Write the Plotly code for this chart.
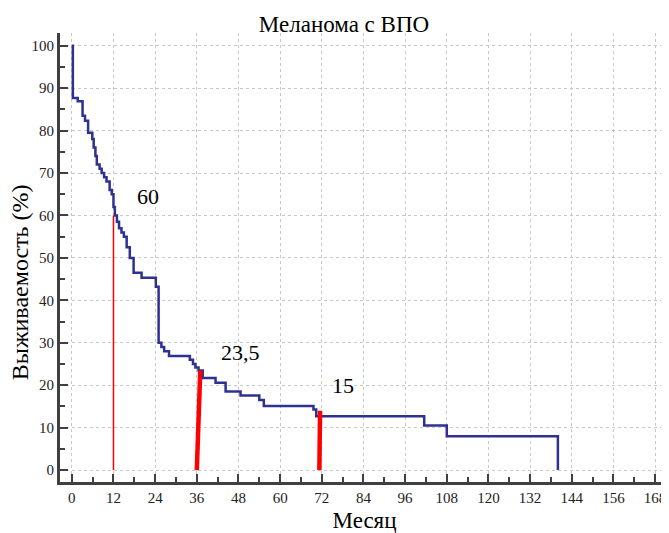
import plotly.graph_objects as go

# Kaplan-Meier curve (months, survival %)
months = [0, 0.3, 1.7, 3.1, 3.8, 4.7, 5.9, 6.3, 6.8, 7.2, 8.0, 8.6, 9.3, 10.0, 10.9, 11.5,
          12.0, 12.4, 13.0, 13.6, 14.3, 15.0, 15.8, 16.7, 17.8, 20.1, 24.2, 25.0, 25.8,
          26.6, 28.0, 34.0, 34.9, 35.6, 36.5, 37.7, 41.4, 44.3, 48.6, 54.0, 55.3, 69.6,
          70.4, 101.5, 108.0, 140.0]
survival = [100, 87.7, 86.9, 83.5, 82.3, 79.5, 78, 76, 74, 72, 71, 70, 69, 68, 66, 65,
            62, 60, 58.5, 57, 56, 55, 52.5, 50, 46.5, 45.3, 43.2, 30, 29,
            28, 26.9, 26, 25, 24.2, 23.5, 21.7, 20.6, 18.5, 17.6, 16.5, 15.1, 14.3,
            12.7, 10.5, 8.0, 0]

# red marker lines (x bottom, x top, height, width)
mark_x0 = [12, 36, 71.3]
mark_x1 = [12, 37, 71.5]
mark_val = [60, 23.5, 14]
mark_w = [1.5, 4.5, 4.5]

label_text = ["60", "23,5", "15"]
label_x = [21.9, 48.6, 78]
label_y = [64.4, 27.8, 20]

x_ticks = list(range(0, 169, 12))
y_ticks = list(range(0, 101, 10))

FONT = "Times New Roman, Liberation Serif, serif"

fig = go.Figure()
fig.add_trace(go.Scatter(x=months, y=survival, mode="lines", line_shape="hv",
                         line=dict(color="#2e3192", width=2.5), showlegend=False,
                         hoverinfo="skip"))
for x0, x1, v, w in zip(mark_x0, mark_x1, mark_val, mark_w):
    fig.add_trace(go.Scatter(x=[x0, x1], y=[0, v], mode="lines",
                             line=dict(color="#ff0000", width=w), showlegend=False,
                             hoverinfo="skip"))

for t, x, y in zip(label_text, label_x, label_y):
    fig.add_annotation(x=x, y=y, text=t, showarrow=False,
                       font=dict(family=FONT, size=22, color="#000000"))

# y axis title, placed slightly below the plot centre as in the reference
fig.add_annotation(x=-0.0657, y=0.445, xref="paper", yref="paper",
                   text="Выживаемость (%)", textangle=-90, showarrow=False,
                   xanchor="center", yanchor="middle",
                   font=dict(family=FONT, size=24, color="#000000"))

axis_common = dict(showline=True, linecolor="#404040", linewidth=3, mirror=False,
                   ticks="inside", tickcolor="#404040", tickwidth=2, ticklen=8,
                   showgrid=True, gridcolor="#c8c8c8", griddash="dot", gridwidth=1,
                   zeroline=False, tickfont=dict(family=FONT, size=15, color="#222222"),
                   automargin=False)

fig.update_xaxes(range=[-3.4, 172], tickvals=x_ticks,
                 minor=dict(dtick=6, tick0=0, ticks="inside", ticklen=5,
                            tickcolor="#404040", tickwidth=2, showgrid=False),
                 title=dict(text="Месяц", font=dict(family=FONT, size=23, color="#000000"),
                            standoff=11),
                 **axis_common)
fig.update_yaxes(range=[-2.8, 103], tickvals=y_ticks,
                 minor=dict(dtick=5, tick0=0, ticks="inside", ticklen=5,
                            tickcolor="#404040", tickwidth=2, showgrid=False),
                 **axis_common)

# page body has an 8px margin, so the figure is sized to end at the window edge
fig.update_layout(
    width=661, height=525,
    margin=dict(l=52, r=0, t=25, b=51),
    paper_bgcolor="white", plot_bgcolor="white",
    font=dict(family=FONT),
    title=dict(text="Меланома с ВПО", x=(344 - 8) / 661, xanchor="center",
               y=1 - 16 / 525, yanchor="middle", yref="container",
               font=dict(family=FONT, size=23, color="#000000")),
)

fig.write_html("out.html")
